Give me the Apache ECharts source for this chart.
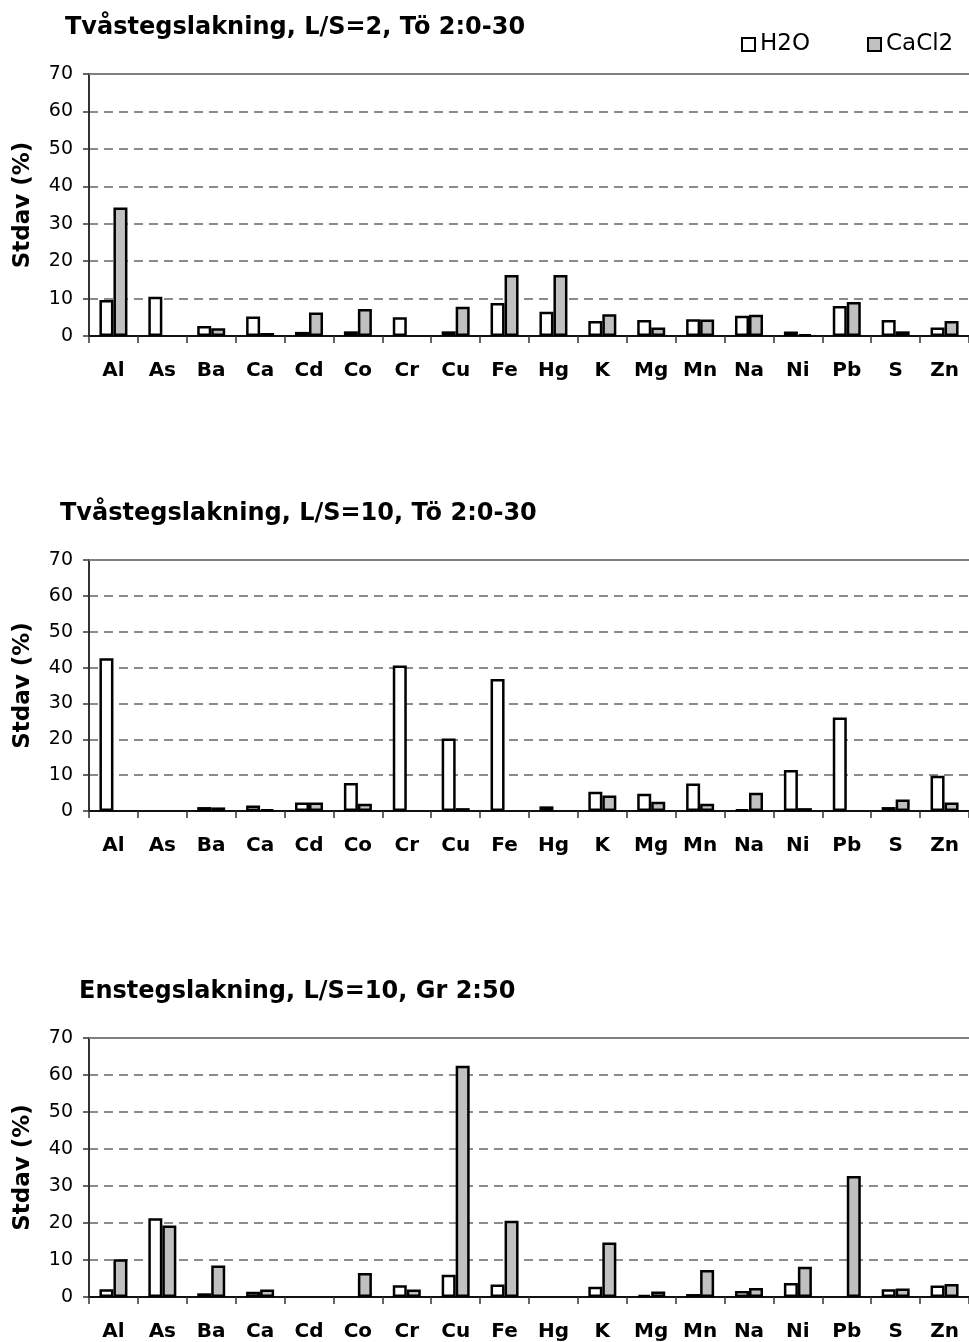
<!DOCTYPE html>
<html>
<head>
<meta charset="utf-8">
<title>Stdav</title>
<script src="https://cdn.jsdelivr.net/npm/echarts@6/dist/echarts.min.js"></script>
<style>
  html, body { margin: 0; padding: 0; background: #fff; }
  #chart { width: 969px; height: 1342px; }
</style>
</head>
<body>
<div id="chart"></div>
<script>
const elements = ['Al', 'As', 'Ba', 'Ca', 'Cd', 'Co', 'Cr', 'Cu', 'Fe', 'Hg', 'K', 'Mg', 'Mn', 'Na', 'Ni', 'Pb', 'S', 'Zn'];
const yTicks = [0, 10, 20, 30, 40, 50, 60, 70];

const titles = [
  'Tvåstegslakning, L/S=2, Tö 2:0-30',
  'Tvåstegslakning, L/S=10, Tö 2:0-30',
  'Enstegslakning, L/S=10, Gr 2:50'
];

// Tvåstegslakning L/S=2
const h2oA = [9.6, 10.5, 2.7, 5.2, 1.1, 1.25, 5.0, 1.25, 8.8, 6.5, 4.0, 4.3, 4.5, 5.4, 1.2, 8.0, 4.3, 2.3];
const caclA = [34.3, null, 2.1, 0.8, 6.25, 7.2, null, 7.8, 16.3, 16.3, 5.8, 2.3, 4.4, 5.7, 0.45, 9.1, 1.25, 4.0];
// Tvåstegslakning L/S=10
const h2oB = [42.6, null, 1.1, 1.5, 2.4, 7.8, 40.6, 20.2, 36.8, 1.3, 5.4, 4.8, 7.7, 0.4, 11.4, 26.1, 1.1, 9.8];
const caclB = [null, null, 1.0, 0.4, 2.4, 2.0, null, 0.8, null, null, 4.3, 2.6, 2.0, 5.1, 0.8, null, 3.2, 2.4];
// Enstegslakning L/S=10
const h2oC = [2.1, 21.3, 1.0, 1.4, null, null, 3.2, 6.0, 3.4, null, 2.8, 0.6, 0.8, 1.6, 3.8, null, 2.1, 3.1];
const caclC = [10.2, 19.3, 8.5, 2.0, null, 6.5, 2.0, 62.5, 20.6, null, 14.7, 1.5, 7.3, 2.4, 8.2, 32.7, 2.3, 3.5];

const font = 'DejaVu Sans, Verdana, sans-serif';
const panels = [
  { top: 74, height: 262, titleLeft: 65, titleTop: 16, h2o: h2oA, cacl: caclA },
  { top: 560, height: 251, titleLeft: 60, titleTop: 502, h2o: h2oB, cacl: caclB },
  { top: 1038, height: 260, titleLeft: 79, titleTop: 980, h2o: h2oC, cacl: caclC }
];

const chart = echarts.init(document.getElementById('chart'));

const grid = [];
const xAxis = [];
const yAxis = [];
const series = [];
const title = [];

panels.forEach((p, i) => {
  grid.push({ left: 89, width: 884, top: p.top, height: p.height });
  title.push({
    text: titles[i],
    left: p.titleLeft,
    top: p.titleTop,
    padding: 0,
    textStyle: { fontFamily: font, fontWeight: 'bold', fontSize: 24, color: '#000' }
  });
  xAxis.push({
    type: 'category',
    gridIndex: i,
    data: elements,
    axisLine: { lineStyle: { color: '#111', width: 2 } },
    axisTick: { show: true, interval: 0, length: 7, lineStyle: { color: '#333', width: 1.5 } },
    axisLabel: { interval: 0, margin: 25, fontFamily: font, fontWeight: 'bold', fontSize: 20, color: '#000' }
  });
  // top border of the plot
  xAxis.push({
    type: 'category',
    gridIndex: i,
    position: 'top',
    data: elements,
    axisLine: { lineStyle: { color: '#808080', width: 2 } },
    axisTick: { show: false },
    axisLabel: { show: false }
  });
  yAxis.push({
    type: 'value',
    gridIndex: i,
    min: yTicks[0],
    max: yTicks[yTicks.length - 1],
    interval: 10,
    name: 'Stdav (%)',
    nameLocation: 'middle',
    nameGap: 54,
    nameTextStyle: { fontFamily: font, fontWeight: 'bold', fontSize: 23, color: '#000' },
    axisLine: { show: true, lineStyle: { color: '#333', width: 2 } },
    axisTick: { show: true, length: 6, lineStyle: { color: '#333', width: 1.5 } },
    axisLabel: { margin: 16, fontFamily: font, fontSize: 19, color: '#000' },
    splitLine: { show: true, lineStyle: { color: '#666', width: 1.5, type: [9, 6] } }
  });
  series.push({
    name: 'H2O',
    type: 'bar',
    xAxisIndex: i * 2,
    yAxisIndex: i,
    data: p.h2o,
    barWidth: 14,
    barGap: '0%',
    itemStyle: { color: '#fff', borderColor: '#000', borderWidth: 2.5 }
  });
  series.push({
    name: 'CaCl2',
    type: 'bar',
    xAxisIndex: i * 2,
    yAxisIndex: i,
    data: p.cacl,
    barWidth: 14,
    barGap: '0%',
    itemStyle: { color: '#c0c0c0', borderColor: '#000', borderWidth: 2.5 }
  });
});

const legendText = { fontFamily: font, fontSize: 23, color: '#000' };
const option = {
  animation: false,
  backgroundColor: '#fff',
  title,
  legend: [
    { data: ['H2O'], left: 741, top: 33, padding: 0, itemWidth: 13, itemHeight: 13, icon: 'rect', textStyle: legendText, selectedMode: false },
    { data: ['CaCl2'], left: 867, top: 33, padding: 0, itemWidth: 13, itemHeight: 13, icon: 'rect', textStyle: legendText, selectedMode: false }
  ],
  grid,
  xAxis,
  yAxis,
  series
};

chart.setOption(option);
</script>
</body>
</html>
